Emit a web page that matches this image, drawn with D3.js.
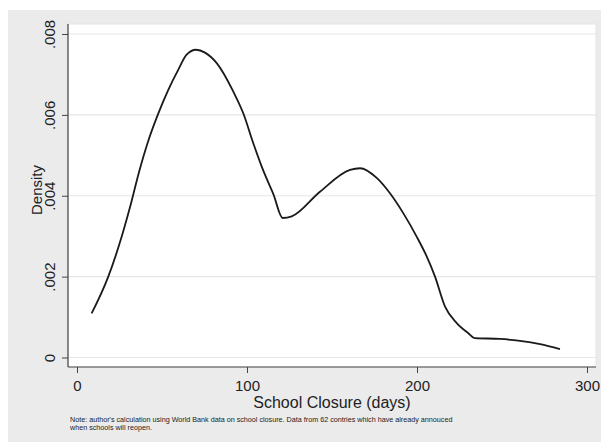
<!DOCTYPE html>
<html><head><meta charset="utf-8">
<script src="https://cdn.jsdelivr.net/npm/d3@7"></script>
<style>body{margin:0;background:#fff;} svg{display:block;}</style>
</head><body>
<svg id="c" width="601" height="442"></svg>
<script>
const days = [8.6,18.4,26.3,31.2,36.5,42.1,47.5,53.7,59.6,64.5,70.0,75.3,82.2,91.9,97.8,103.7,109.6,115.5,121.0,126.3,142.9,160.6,166.5,176.3,184.1,191.9,199.8,205.7,210.6,216.5,223.4,230.2,234.1,248.8,260.6,272.4,284.1];
const density = [0.00109,0.00200,0.00299,0.00372,0.00459,0.00538,0.00600,0.00662,0.00712,0.00749,0.00761,0.00754,0.00728,0.00658,0.00604,0.00530,0.00462,0.00404,0.00345,0.00349,0.00410,0.00464,0.00468,0.00444,0.00406,0.00357,0.00299,0.00250,0.00200,0.00126,0.00085,0.00060,0.00048,0.00046,0.00041,0.00033,0.00021];
const xTicks = [0,100,200,300];
const yTicks = [0,0.002,0.004,0.006,0.008];
const yTickLabels = ["0",".002",".004",".006",".008"];
const xTitle = "School Closure (days)";
const yTitle = "Density";
const note1 = "Note: author's calculation using World Bank data on school closure. Data from 62 contries which have already annouced";
const note2 = "when schools will reopen.";

const svg = d3.select("#c");
const font = "'Liberation Sans', Arial, sans-serif";
svg.append("rect").attr("x",8).attr("y",10).attr("width",593).attr("height",432).attr("fill","#ebebeb");
const pl = {l:68, t:24, r:596, b:367};
svg.append("rect").attr("x",pl.l).attr("y",pl.t).attr("width",pl.r-pl.l).attr("height",pl.b-pl.t).attr("fill","#fff").attr("stroke","#e4e4e4");

const x = d3.scaleLinear().domain([0,300]).range([77,587]);
const y = d3.scaleLinear().domain([0,0.008]).range([357.5,34]);

// gridlines
svg.append("g").selectAll("line").data(yTicks).join("line")
  .attr("x1",pl.l).attr("x2",pl.r).attr("y1",d=>y(d)).attr("y2",d=>y(d))
  .attr("stroke","#e6e6e6").attr("stroke-width",1.2);

// y axis
const ya = svg.append("g").attr("transform",`translate(${pl.l},0)`)
  .call(d3.axisLeft(y).tickValues(yTicks).tickFormat((d,i)=>yTickLabels[i]).tickSize(6));
ya.select(".domain").attr("d",`M0,${pl.t}V${pl.b}`).attr("stroke","#444").attr("stroke-width",1.2);
ya.selectAll(".tick line").attr("stroke","#444");
ya.selectAll(".tick text").attr("font-family",font).attr("font-size",15).attr("fill","#222")
  .attr("text-anchor","middle").attr("dominant-baseline","middle")
  .attr("x",0).attr("y",0).attr("dy",null)
  .attr("transform","translate(-17,0) rotate(-90)");

// x axis
const xa = svg.append("g").attr("transform",`translate(0,${pl.b})`)
  .call(d3.axisBottom(x).tickValues(xTicks).tickSize(6).tickPadding(7));
xa.select(".domain").attr("d",`M${pl.l},0H${pl.r}`).attr("stroke","#444").attr("stroke-width",1.2);
xa.selectAll(".tick line").attr("stroke","#444");
xa.selectAll(".tick text").attr("font-family",font).attr("font-size",15).attr("fill","#222");

// titles
svg.append("text").attr("x",332).attr("y",408).attr("text-anchor","middle").attr("font-family",font).attr("font-size",16).attr("fill","#222").text(xTitle);
svg.append("text").attr("transform","translate(42,190) rotate(-90)").attr("text-anchor","middle").attr("font-family",font).attr("font-size",15).attr("fill","#222").text(yTitle);
svg.append("text").attr("x",70).attr("y",421.5).attr("font-family",font).attr("font-size",7.2).attr("fill","#222").text(note1);
svg.append("text").attr("x",70).attr("y",429.5).attr("font-family",font).attr("font-size",7.2).attr("fill","#222").text(note2);

// curve
const pts = days.map((d,i)=>[d,density[i]]);
svg.append("path").datum(pts).attr("fill","none").attr("stroke","#1a1a1a").attr("stroke-width",1.8).attr("stroke-linejoin","round")
  .attr("d",d3.line().x(d=>x(d[0])).y(d=>y(d[1])).curve(d3.curveMonotoneX));
</script>
</body></html>
